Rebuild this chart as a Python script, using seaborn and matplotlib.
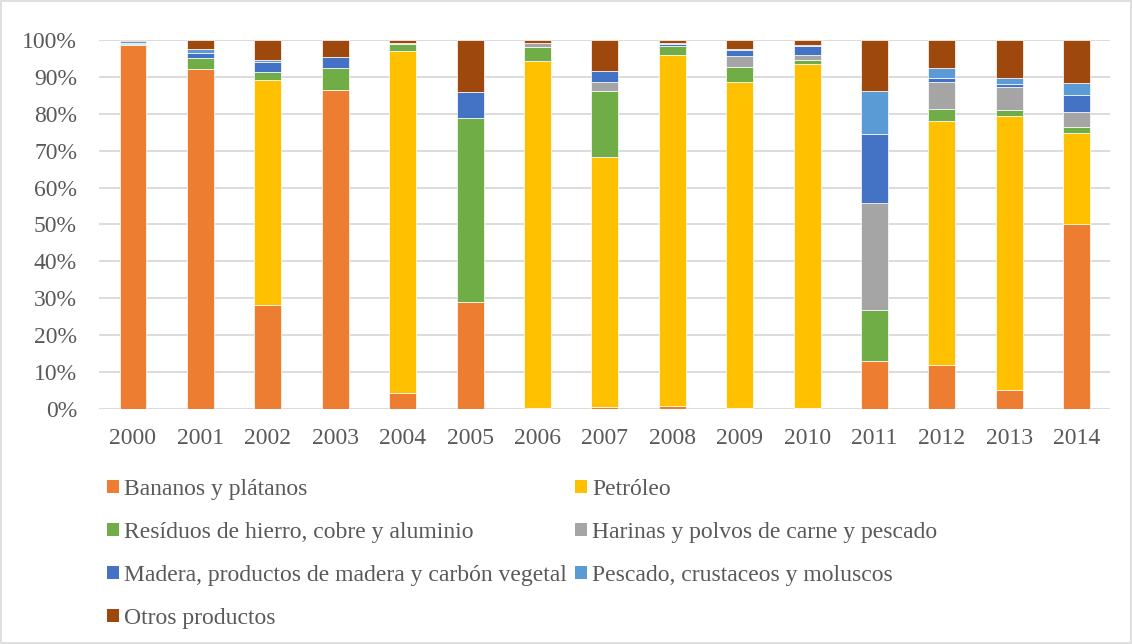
import numpy as np
import pandas as pd
import matplotlib
matplotlib.use("Agg")
import matplotlib.pyplot as plt
import seaborn as sns
from matplotlib.ticker import FuncFormatter
from matplotlib.patches import Patch, Rectangle

years = [str(y) for y in range(2000, 2015)]

series_names = [
    "Bananos y plátanos",
    "Petróleo",
    "Resíduos de hierro, cobre y aluminio",
    "Harinas y polvos de carne y pescado",
    "Madera, productos de madera y carbón vegetal",
    "Pescado, crustaceos y moluscos",
    "Otros productos",
]

bananos   = [98.6, 92.2, 28.2, 86.4, 4.4, 28.9, 0.2, 0.5, 0.8, 0.3, 0.3, 13.1, 11.8, 5.2, 50.2]
petroleo  = [0.0, 0.0, 60.9, 0.0, 92.7, 0.0, 94.1, 67.8, 95.1, 88.3, 93.1, 0.0, 66.2, 74.1, 24.7]
residuos  = [0.3, 3.0, 2.3, 5.9, 1.8, 50.0, 3.9, 17.8, 2.5, 4.1, 1.2, 13.8, 3.3, 1.6, 1.5]
harinas   = [0.1, 0.0, 0.0, 0.0, 0.3, 0.0, 1.1, 2.5, 0.1, 2.9, 1.4, 28.8, 7.4, 6.3, 4.2]
madera    = [0.3, 1.4, 2.7, 3.0, 0.0, 7.0, 0.0, 3.1, 0.5, 1.6, 2.3, 18.9, 1.1, 0.9, 4.6]
pescado   = [0.4, 0.9, 0.5, 0.0, 0.0, 0.0, 0.0, 0.0, 0.3, 0.4, 0.4, 11.6, 2.5, 1.7, 3.2]
otros     = [0.3, 2.5, 5.4, 4.7, 0.8, 14.1, 0.7, 8.3, 0.7, 2.4, 1.3, 13.8, 7.7, 10.2, 11.6]

colors = ["#ED7D31", "#FFC000", "#70AD47", "#A5A5A5", "#4472C4", "#5B9BD5", "#9E480E"]

yticks = [0, 10, 20, 30, 40, 50, 60, 70, 80, 90, 100]

sns.set_theme(style="white")
plt.rcParams["font.family"] = ["Liberation Serif", "DejaVu Serif"]

FS = 17

fig = plt.figure(figsize=(11.32, 6.44), dpi=100)
fig.patch.set_facecolor("white")
ax = fig.add_axes([0.0877, 0.3649, 0.981 - 0.0877, 0.9379 - 0.3649])

data = [bananos, petroleo, residuos, harinas, madera, pescado, otros]
bottom = np.zeros(len(years))
for name, vals, col in zip(series_names, data, colors):
    df = pd.DataFrame({"year": years, "value": vals})
    sns.barplot(data=df, x="year", y="value", order=years, color=col,
                bottom=bottom.copy(), width=0.4, errorbar=None, ax=ax,
                edgecolor="white", linewidth=0.5, saturation=1, zorder=3)
    bottom = bottom + np.array(vals)

ax.set_ylim(0, 100)
ax.set_xlim(-0.5, 14.5)
ax.set_yticks(yticks)
ax.yaxis.set_major_formatter(FuncFormatter(lambda v, p: f"{int(v)}%"))
ax.grid(axis="y", color="#D9D9D9", linewidth=1.3, zorder=0)
ax.set_axisbelow(True)
for s in ax.spines.values():
    s.set_visible(False)
ax.tick_params(axis="both", length=0, labelsize=FS, labelcolor="#595959")
ax.tick_params(axis="y", pad=16)
ax.tick_params(axis="x", pad=14)
ax.set_xlabel("")
ax.set_ylabel("")

order = [0, 2, 4, 6, 1, 3, 5]
handles = [Patch(facecolor=colors[i], edgecolor="none") for i in order]
labels = [series_names[i] for i in order]
fig.legend(handles, labels, loc="upper left", bbox_to_anchor=(0.0945, 0.256),
           ncol=2, frameon=False, fontsize=FS, labelcolor="#595959",
           handlelength=0.5, handleheight=0.5, handletextpad=0.22,
           columnspacing=0.34, labelspacing=0.93, borderaxespad=0, borderpad=0)

fig.patches.append(Rectangle((0.001, 0.001), 0.998, 0.998, transform=fig.transFigure,
                             fill=False, edgecolor="#D9D9D9", linewidth=1.2))

fig.savefig("out.png", dpi=100, facecolor="white")
